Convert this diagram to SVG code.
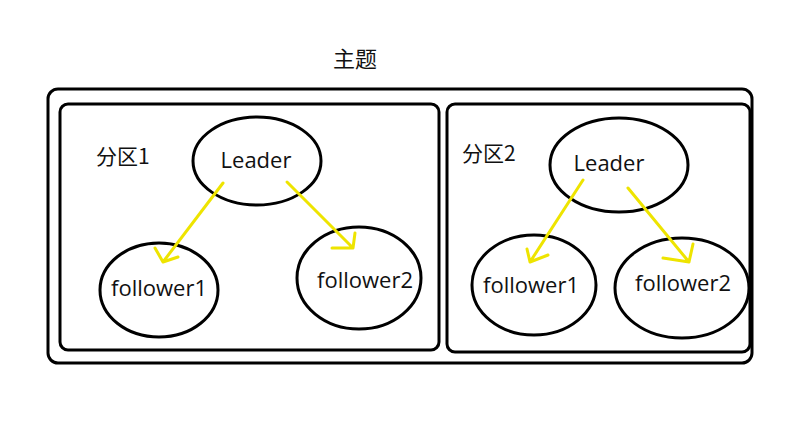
<svg xmlns="http://www.w3.org/2000/svg" width="800" height="432" viewBox="0 0 800 432">
<style>
.box{fill:none;stroke:#000;stroke-width:3}
.node{fill:#fff;stroke:#000;stroke-width:3}
.t{font-family:"Open Sans","Noto Sans CJK SC",sans-serif;font-size:22px;fill:#111}
.c{font-family:"Noto Sans CJK SC","Open Sans",sans-serif;font-size:21px;fill:#111}
.arr{fill:none;stroke:#eee400;stroke-width:3;stroke-linecap:round;stroke-linejoin:round}
</style>
<rect width="800" height="432" fill="#fff"/>
<g id="topic">
<rect class="box" x="48" y="89" width="704" height="274" rx="10"/>
<text class="c" x="355" y="67" text-anchor="middle" style="font-size:22px">主题</text>
</g>
<g id="partition1">
<rect class="box" x="60" y="104" width="379" height="246" rx="8"/>
<text class="c" x="96" y="164">分区1</text>
</g>
<g id="partition2">
<rect class="box" x="447" y="104" width="303" height="248" rx="8"/>
<text class="c" x="462" y="161">分区2</text>
</g>
<g id="p1-leader">
<ellipse class="node" cx="257" cy="161" rx="64" ry="44"/>
<text class="t" x="256" y="168" text-anchor="middle">Leader</text>
</g>
<g id="p1-follower1">
<ellipse class="node" cx="159" cy="290" rx="59" ry="47"/>
<text class="t" x="159" y="296" text-anchor="middle">follower1</text>
</g>
<g id="p1-follower2">
<ellipse class="node" cx="359" cy="278" rx="62" ry="51"/>
<text class="t" x="365" y="288" text-anchor="middle">follower2</text>
</g>
<g id="p2-leader">
<ellipse class="node" cx="619" cy="165" rx="69" ry="47"/>
<text class="t" x="609" y="171" text-anchor="middle">Leader</text>
</g>
<g id="p2-follower1">
<ellipse class="node" cx="534" cy="285" rx="62" ry="50"/>
<text class="t" x="531" y="293" text-anchor="middle">follower1</text>
</g>
<g id="p2-follower2">
<ellipse class="node" cx="682" cy="288" rx="67" ry="50"/>
<text class="t" x="683" y="291" text-anchor="middle">follower2</text>
</g>
<g id="connectors">
<path class="arr" d="M223 183 L163 262 M155 248 L163 262 L178 257"/>
<path class="arr" d="M287 182 L353 248 M332 248 L353 248 L355 233"/>
<path class="arr" d="M583 180 L530 262 M527 249 L530 262 L548 255"/>
<path class="arr" d="M628 188 L689 262 M663 258 L689 262 L693 244"/>
</g>
</svg>
